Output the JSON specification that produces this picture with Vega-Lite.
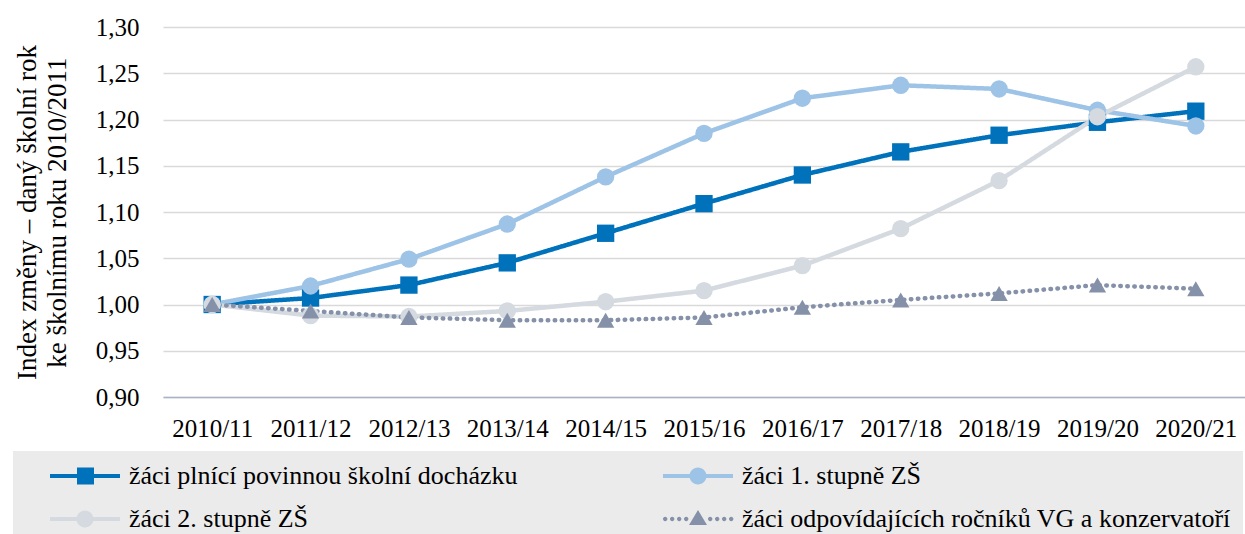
{
  "$schema": "https://vega.github.io/schema/vega-lite/v6.json",
  "width": 1082,
  "height": 370,
  "autosize": {"type": "none"},
  "padding": {"left": 163, "top": 27, "right": 0, "bottom": 137},
  "background": "white",
  "config": {
    "font": "Liberation Serif",
    "view": {"stroke": null}
  },
  "data": {
    "values": [
      {"year": "2010/11", "series": "žáci plnící povinnou školní docházku", "value": 1.000},
      {"year": "2011/12", "series": "žáci plnící povinnou školní docházku", "value": 1.007},
      {"year": "2012/13", "series": "žáci plnící povinnou školní docházku", "value": 1.021},
      {"year": "2013/14", "series": "žáci plnící povinnou školní docházku", "value": 1.045},
      {"year": "2014/15", "series": "žáci plnící povinnou školní docházku", "value": 1.077},
      {"year": "2015/16", "series": "žáci plnící povinnou školní docházku", "value": 1.109},
      {"year": "2016/17", "series": "žáci plnící povinnou školní docházku", "value": 1.140},
      {"year": "2017/18", "series": "žáci plnící povinnou školní docházku", "value": 1.165},
      {"year": "2018/19", "series": "žáci plnící povinnou školní docházku", "value": 1.183},
      {"year": "2019/20", "series": "žáci plnící povinnou školní docházku", "value": 1.197},
      {"year": "2020/21", "series": "žáci plnící povinnou školní docházku", "value": 1.209},
      {"year": "2010/11", "series": "žáci 1. stupně ZŠ", "value": 1.000},
      {"year": "2011/12", "series": "žáci 1. stupně ZŠ", "value": 1.020},
      {"year": "2012/13", "series": "žáci 1. stupně ZŠ", "value": 1.049},
      {"year": "2013/14", "series": "žáci 1. stupně ZŠ", "value": 1.087},
      {"year": "2014/15", "series": "žáci 1. stupně ZŠ", "value": 1.138},
      {"year": "2015/16", "series": "žáci 1. stupně ZŠ", "value": 1.185},
      {"year": "2016/17", "series": "žáci 1. stupně ZŠ", "value": 1.223},
      {"year": "2017/18", "series": "žáci 1. stupně ZŠ", "value": 1.237},
      {"year": "2018/19", "series": "žáci 1. stupně ZŠ", "value": 1.233},
      {"year": "2019/20", "series": "žáci 1. stupně ZŠ", "value": 1.210},
      {"year": "2020/21", "series": "žáci 1. stupně ZŠ", "value": 1.193},
      {"year": "2010/11", "series": "žáci 2. stupně ZŠ", "value": 1.000},
      {"year": "2011/12", "series": "žáci 2. stupně ZŠ", "value": 0.988},
      {"year": "2012/13", "series": "žáci 2. stupně ZŠ", "value": 0.987},
      {"year": "2013/14", "series": "žáci 2. stupně ZŠ", "value": 0.993},
      {"year": "2014/15", "series": "žáci 2. stupně ZŠ", "value": 1.003},
      {"year": "2015/16", "series": "žáci 2. stupně ZŠ", "value": 1.015},
      {"year": "2016/17", "series": "žáci 2. stupně ZŠ", "value": 1.042},
      {"year": "2017/18", "series": "žáci 2. stupně ZŠ", "value": 1.082},
      {"year": "2018/19", "series": "žáci 2. stupně ZŠ", "value": 1.134},
      {"year": "2019/20", "series": "žáci 2. stupně ZŠ", "value": 1.203},
      {"year": "2020/21", "series": "žáci 2. stupně ZŠ", "value": 1.257},
      {"year": "2010/11", "series": "žáci odpovídajících ročníků VG a konzervatoří", "value": 1.000},
      {"year": "2011/12", "series": "žáci odpovídajících ročníků VG a konzervatoří", "value": 0.993},
      {"year": "2012/13", "series": "žáci odpovídajících ročníků VG a konzervatoří", "value": 0.986},
      {"year": "2013/14", "series": "žáci odpovídajících ročníků VG a konzervatoří", "value": 0.983},
      {"year": "2014/15", "series": "žáci odpovídajících ročníků VG a konzervatoří", "value": 0.983},
      {"year": "2015/16", "series": "žáci odpovídajících ročníků VG a konzervatoří", "value": 0.986},
      {"year": "2016/17", "series": "žáci odpovídajících ročníků VG a konzervatoří", "value": 0.997},
      {"year": "2017/18", "series": "žáci odpovídajících ročníků VG a konzervatoří", "value": 1.005},
      {"year": "2018/19", "series": "žáci odpovídajících ročníků VG a konzervatoří", "value": 1.012},
      {"year": "2019/20", "series": "žáci odpovídajících ročníků VG a konzervatoří", "value": 1.021},
      {"year": "2020/21", "series": "žáci odpovídajících ročníků VG a konzervatoří", "value": 1.017}
    ]
  },
  "encoding": {
    "x": {
      "field": "year",
      "type": "ordinal",
      "scale": {"type": "point", "padding": 0.5},
      "axis": {
        "title": null,
        "domain": true,
        "domainColor": "#a8b4c6",
        "domainWidth": 1.5,
        "ticks": false,
        "grid": false,
        "labelAngle": 0,
        "labelFont": "Liberation Serif",
        "labelFontSize": 25,
        "labelColor": "#000000",
        "labelPadding": 19
      }
    },
    "y": {
      "field": "value",
      "type": "quantitative",
      "scale": {"domain": [0.9, 1.3], "nice": false, "zero": false},
      "axis": {
        "values": [0.9, 0.95, 1.0, 1.05, 1.1, 1.15, 1.2, 1.25, 1.3],
        "labelExpr": "replace(format(datum.value, '.2f'), '.', ',')",
        "domain": false,
        "ticks": false,
        "grid": true,
        "gridColor": "#d9d9d9",
        "gridWidth": 1.5,
        "labelFont": "Liberation Serif",
        "labelFontSize": 25,
        "labelColor": "#000000",
        "labelPadding": 24,
        "title": ["Index změny – daný školní rok", "ke školnímu roku 2010/2011"],
        "titleFont": "Liberation Serif",
        "titleFontSize": 27,
        "titleFontWeight": "normal",
        "titleColor": "#000000",
        "titleLineHeight": 30,
        "titleAngle": -90,
        "titleAlign": "center",
        "titleBaseline": "bottom",
        "titleX": -122,
        "titleY": 185
      }
    },
    "color": {
      "field": "series",
      "type": "nominal",
      "scale": {
        "domain": ["žáci plnící povinnou školní docházku", "žáci 1. stupně ZŠ", "žáci 2. stupně ZŠ", "žáci odpovídajících ročníků VG a konzervatoří"],
        "range": ["#0071bb", "#9dc3e6", "#d5dae0", "#8591a9"]
      },
      "legend": {
        "title": null,
        "orient": "none",
        "legendX": -150,
        "legendY": 424,
        "direction": "horizontal",
        "columns": 2,
        "fillColor": "#ebebeb",
        "padding": 12,
        "labelFont": "Liberation Serif",
        "labelFontSize": 26,
        "labelColor": "#000000",
        "labelLimit": 700,
        "labelOffset": 78,
        "columnPadding": 120,
        "rowPadding": 17,
        "symbolSize": 400,
        "symbolStrokeWidth": 0,
        "symbolOpacity": 1,
        "encode": {
          "symbols": {
            "update": {
              "shape": {"signal": "datum.index === 0 ? 'M1.2,-0.2H8.2V0.2H1.2Z M3.9,-0.85H5.6V0.85H3.9Z' : datum.index === 3 ? 'M1.2,0A0.22,0.22,0,1,1,1.64,0A0.22,0.22,0,1,1,1.2,0Z M1.9,0A0.22,0.22,0,1,1,2.34,0A0.22,0.22,0,1,1,1.9,0Z M2.6,0A0.22,0.22,0,1,1,3.04,0A0.22,0.22,0,1,1,2.6,0Z M3.3,0A0.22,0.22,0,1,1,3.74,0A0.22,0.22,0,1,1,3.3,0Z M4.7,-0.9L5.6,0.6H3.8Z M5.7,0A0.22,0.22,0,1,1,6.14,0A0.22,0.22,0,1,1,5.7,0Z M6.4,0A0.22,0.22,0,1,1,6.84,0A0.22,0.22,0,1,1,6.4,0Z M7.1,0A0.22,0.22,0,1,1,7.54,0A0.22,0.22,0,1,1,7.1,0Z M7.8,0A0.22,0.22,0,1,1,8.24,0A0.22,0.22,0,1,1,7.8,0Z' : 'M1.2,-0.2H8.2V0.2H1.2Z M3.85,0A0.85,0.85,0,1,1,5.55,0A0.85,0.85,0,1,1,3.85,0Z'"},
              "strokeWidth": {"value": 0}
            }
          }
        }
      }
    }
  },
  "layer": [
    {
      "mark": {"type": "line", "strokeWidth": 4.5, "strokeCap": "round", "strokeJoin": "round"},
      "encoding": {
        "strokeDash": {
          "field": "series",
          "type": "nominal",
          "scale": {
            "domain": ["žáci plnící povinnou školní docházku", "žáci 1. stupně ZŠ", "žáci 2. stupně ZŠ", "žáci odpovídajících ročníků VG a konzervatoří"],
            "range": [[1, 0], [1, 0], [1, 0], [0.5, 6.5]]
          },
          "legend": null
        }
      }
    },
    {
      "transform": [{"filter": "datum.series === 'žáci plnící povinnou školní docházku'"}],
      "mark": {"type": "point", "shape": "square", "filled": true, "opacity": 1, "size": 300}
    },
    {
      "transform": [{"filter": "datum.series === 'žáci 1. stupně ZŠ' || datum.series === 'žáci 2. stupně ZŠ'"}],
      "mark": {"type": "point", "shape": "circle", "filled": true, "opacity": 1, "size": 300}
    },
    {
      "transform": [{"filter": "datum.series === 'žáci odpovídajících ročníků VG a konzervatoří'"}],
      "mark": {"type": "point", "shape": "triangle-up", "filled": true, "opacity": 1, "size": 300}
    }
  ]
}
